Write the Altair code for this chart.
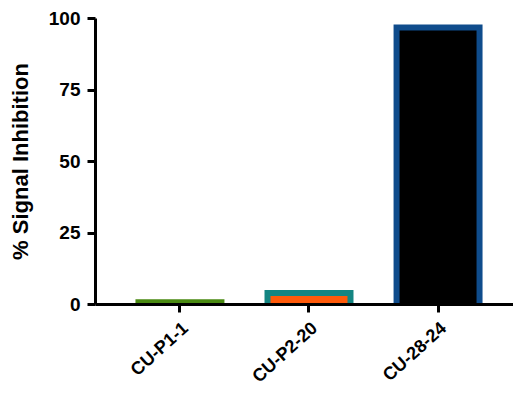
import altair as alt
import pandas as pd

samples = ["CU-P1-1", "CU-P2-20", "CU-28-24"]
inhibition = [0.6, 3.85, 96.7]
baseline = -1.2
fill_colors = ["#4a8a12", "#ff5a0a", "#000000"]
stroke_colors = ["#4a8a12", "#148582", "#0f4c8c"]

df = pd.DataFrame({"sample": samples, "value": inhibition})

font = "Liberation Sans"

chart = alt.Chart(df).mark_bar(strokeWidth=6, clip=True).encode(
    x=alt.X("sample:N", sort=samples, title=None,
            scale=alt.Scale(paddingInner=0.357, paddingOuter=0.298, align=0.565),
            axis=alt.Axis(labelAngle=-42, labelFont=font, labelFontSize=18,
                          labelFontWeight="bold", labelColor="black",
                          domainColor="black", domainWidth=3,
                          tickColor="black", tickWidth=3, tickSize=8,
                          labelPadding=7, zindex=1)),
    y=alt.Y("value:Q", title="% Signal Inhibition",
            scale=alt.Scale(domain=[0, 100], nice=False),
            axis=alt.Axis(values=[0, 25, 50, 75, 100], labelFont=font,
                          labelFontSize=19, labelFontWeight="bold",
                          labelColor="black", titleFont=font,
                          titleFontSize=22, titleFontWeight="bold",
                          titleColor="black", domainColor="black",
                          domainWidth=3, tickColor="black", tickWidth=3,
                          tickSize=8, labelPadding=7, titlePadding=16,
                          grid=False, zindex=1)),
    y2=alt.datum(baseline),
    color=alt.Color("sample:N", scale=alt.Scale(domain=samples, range=fill_colors), legend=None),
    stroke=alt.Stroke("sample:N", scale=alt.Scale(domain=samples, range=stroke_colors), legend=None),
).properties(
    width=418, height=286,
    autosize=alt.AutoSizeParams(type="none"),
    padding={"left": 87, "top": 10, "right": 0, "bottom": 87},
).configure_view(stroke=None)

chart.save("out.html", embed_options={"renderer": "svg", "actions": False})
